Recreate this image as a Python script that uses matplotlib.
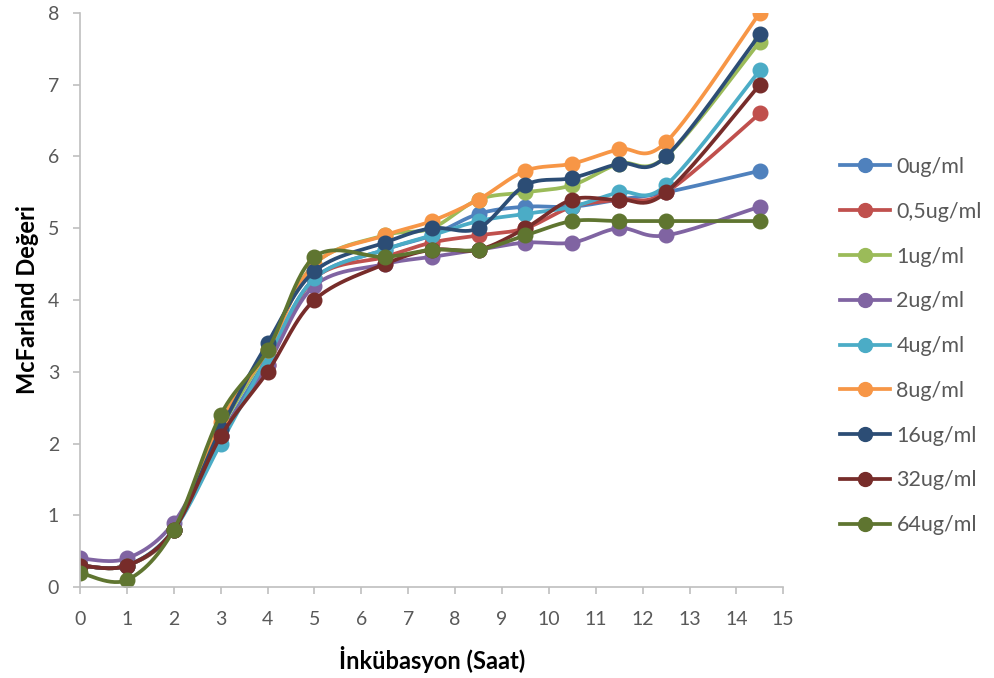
import matplotlib
matplotlib.use('Agg')
import matplotlib.pyplot as plt
from matplotlib.lines import Line2D
import numpy as np

# incubation hours
hours = [0, 1, 2, 3, 4, 5, 6.5, 7.5, 8.5, 9.5, 10.5, 11.5, 12.5, 14.5]

labels = ["0ug/ml", "0,5ug/ml", "1ug/ml", "2ug/ml", "4ug/ml",
          "8ug/ml", "16ug/ml", "32ug/ml", "64ug/ml"]

s0 = [0.3, 0.3, 0.8, 2.1, 3.2, 4.3, 4.7, 4.9, 5.2, 5.3, 5.3, 5.4, 5.5, 5.8]
s05 = [0.3, 0.3, 0.8, 2.1, 3.1, 4.3, 4.6, 4.8, 4.9, 5.0, 5.3, 5.4, 5.5, 6.6]
s1 = [0.3, 0.3, 0.8, 2.2, 3.3, 4.5, 4.9, 5.0, 5.4, 5.5, 5.6, 5.9, 6.0, 7.6]
s2 = [0.4, 0.4, 0.9, 2.1, 3.1, 4.2, 4.5, 4.6, 4.7, 4.8, 4.8, 5.0, 4.9, 5.3]
s4 = [0.3, 0.3, 0.8, 2.0, 3.2, 4.3, 4.7, 4.9, 5.1, 5.2, 5.3, 5.5, 5.6, 7.2]
s8 = [0.3, 0.3, 0.8, 2.3, 3.3, 4.5, 4.9, 5.1, 5.4, 5.8, 5.9, 6.1, 6.2, 8.0]
s16 = [0.3, 0.3, 0.8, 2.2, 3.4, 4.4, 4.8, 5.0, 5.0, 5.6, 5.7, 5.9, 6.0, 7.7]
s32 = [0.3, 0.3, 0.8, 2.1, 3.0, 4.0, 4.5, 4.7, 4.7, 5.0, 5.4, 5.4, 5.5, 7.0]
s64 = [0.2, 0.1, 0.8, 2.4, 3.3, 4.6, 4.6, 4.7, 4.7, 4.9, 5.1, 5.1, 5.1, 5.1]

series = [s0, s05, s1, s2, s4, s8, s16, s32, s64]
colors = ["#4F81BD", "#C0504D", "#9BBB59", "#8064A2", "#4BACC6",
          "#F79646", "#2C4D75", "#772C2A", "#5F7530"]


def smooth(x, y, n=30):
    # excel-like smoothed line (bezier through the points)
    p = np.column_stack([x, y]).astype(float)
    pts = [p[0]]
    for i in range(len(p) - 1):
        p0 = p[i - 1] if i > 0 else p[i]
        p1 = p[i]
        p2 = p[i + 1]
        p3 = p[i + 2] if i + 2 < len(p) else p[i + 1]
        c1 = p1 + (p2 - p0) / 6.0
        c2 = p2 - (p3 - p1) / 6.0
        t = np.linspace(0, 1, n)[1:, None]
        b = ((1 - t) ** 3) * p1 + 3 * ((1 - t) ** 2) * t * c1 \
            + 3 * (1 - t) * t ** 2 * c2 + t ** 3 * p2
        pts.extend(b)
    pts = np.array(pts)
    return pts[:, 0], pts[:, 1]


plt.rcParams['font.family'] = ['Lato', 'DejaVu Sans']

fig = plt.figure(figsize=(9.94, 6.78), dpi=100)
ax = fig.add_axes([0.0805, 0.134, 0.7075, 0.847])

for vals, c in zip(series, colors):
    sx, sy = smooth(hours, vals)
    ax.plot(sx, sy, color=c, lw=2.7, solid_capstyle='round')
    ax.plot(hours, vals, 'o', color=c, ms=10.5)

ax.set_xlim(0, 15)
ax.set_ylim(0, 8)
ax.set_xticks(range(0, 16))
ax.set_yticks(range(0, 9))
for s in ['top', 'right']:
    ax.spines[s].set_visible(False)
for s in ['left', 'bottom']:
    ax.spines[s].set_color('#BFBFBF')
    ax.spines[s].set_linewidth(1.2)
ax.tick_params(colors='#BFBFBF', labelcolor='#595959', labelsize=14,
               length=5, width=1.2)
ax.tick_params(axis='x', pad=12)
ax.tick_params(axis='y', pad=10)
ax.set_xlabel("İnkübasyon (Saat)", fontsize=17, fontweight='bold', labelpad=13)
ax.set_ylabel("McFarland Değeri", fontsize=17, fontweight='bold', labelpad=6)

handles = [Line2D([0], [0], color=c, lw=2.7, marker='o', ms=10) for c in colors]
leg = fig.legend(handles, labels, loc='upper left', bbox_to_anchor=(0.826, 0.797),
                 frameon=False, fontsize=15.5, labelspacing=1.15, handlelength=2.3,
                 handletextpad=0.3)
for t in leg.get_texts():
    t.set_color('#595959')

fig.savefig('out.png', dpi=100)
